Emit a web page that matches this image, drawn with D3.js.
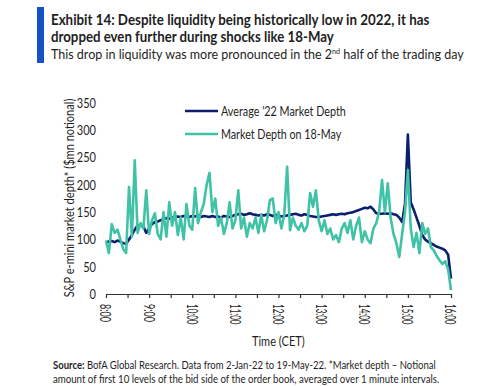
<!DOCTYPE html>
<html>
<head>
<meta charset="utf-8">
<script src="https://cdn.jsdelivr.net/npm/d3@7"></script>
<style>
  body { margin: 0; background: #fff; }
  svg { display: block; }
</style>
</head>
<body>
<svg id="chart"></svg>
<script>
// market depth through the trading day, one value every 4 minutes from 8:00 CET
const minutes = d3.range(0, 481, 4);

// average '22 market depth ($mn)
const avg22 = [
  95, 96, 97, 95, 98, 96, 93, 92, 100, 108, 118, 126, 125, 124, 112,
  120, 128, 132, 133, 135, 137, 139, 138, 140, 141, 142, 141, 143, 142, 141,
  143, 142, 144, 141, 143, 142, 141, 143, 141, 142, 140, 143, 142, 141, 143,
  145, 146, 147, 145, 146, 148, 146, 145, 144, 145, 144, 146, 145, 143, 145,
  144, 142, 143, 144, 145, 146, 147, 145, 144, 146, 145, 143, 142, 141, 141,
  142, 143, 144, 145, 146, 145, 146, 147, 146, 148, 149, 150, 152, 154, 156,
  158, 157, 160, 155, 148, 147, 147, 148, 147, 148, 146, 145, 140, 132, 165,
  292, 168, 155, 140, 125, 108, 100, 96, 93, 90, 87, 85, 83, 80, 72,
  28
];

// market depth on 18-May ($mn)
const may18 = [
  98, 75, 128, 112, 118, 100, 82, 75, 196, 105, 245, 112, 130, 120, 190,
  110, 135, 148, 110, 100, 150, 105, 168, 125, 150, 108, 140, 100, 165, 125,
  118, 194, 130, 150, 165, 200, 222, 150, 175, 125, 140, 110, 130, 168, 120,
  135, 190, 120, 140, 105, 130, 120, 140, 112, 145, 115, 135, 172, 175, 130,
  150, 120, 145, 233, 117, 140, 125, 118, 130, 115, 125, 185, 160, 190, 135,
  115, 135, 110, 120, 100, 108, 95, 120, 130, 112, 135, 100, 125, 140, 95,
  115, 100, 93, 120, 130, 150, 209, 150, 203, 140, 110, 93, 68, 110, 150,
  227, 120, 86, 112, 75, 130, 110, 120, 86, 80, 70, 62, 55, 60, 45,
  7
];

const yTicks = [0, 50, 100, 150, 200, 250, 300, 350];
const hourLabels = ["8:00", "9:00", "10:00", "11:00", "12:00", "13:00", "14:00", "15:00", "16:00"];
const seriesNames = ["Average '22 Market Depth", "Market Depth on 18-May"];

const W = 500, H = 386;
const navy = "#0b1f6e";
const teal = "#3fc2a6";
const ink = "#1e1e1e";
const font = "Lato, 'Open Sans', sans-serif";

const svg = d3.select("#chart")
    .attr("width", W)
    .attr("height", H)
    .style("font-family", font);

// squeeze a text element horizontally so it spans a given width
function fitWidth(node, x, target) {
    let w = node.getBBox().width;
    d3.select(node).attr("transform",
        "translate(" + x + ",0) scale(" + (target / w) + ",1) translate(" + (-x) + ",0)");
}

//header
svg.append("rect")
    .attr("x", 37).attr("y", 7)
    .attr("width", 7).attr("height", 56)
    .attr("fill", "#1552c9");

let t1 = svg.append("text")
    .attr("x", 51).attr("y", 25)
    .attr("font-size", "15px").attr("font-weight", "bold").attr("fill", ink)
    .text("Exhibit 14: Despite liquidity being historically low in 2022, it has");
fitWidth(t1.node(), 51, 379);

let t2 = svg.append("text")
    .attr("x", 51).attr("y", 42)
    .attr("font-size", "15px").attr("font-weight", "bold").attr("fill", ink)
    .text("dropped even further during shocks like 18-May");
fitWidth(t2.node(), 51, 283);

let sub = svg.append("text")
    .attr("x", 51).attr("y", 59)
    .attr("font-size", "14px").attr("fill", ink);
sub.append("tspan").text("This drop in liquidity was more pronounced in the 2");
sub.append("tspan").attr("font-size", "8px").attr("dy", -5).text("nd");
sub.append("tspan").attr("dy", 5).text(" half of the trading day");
fitWidth(sub.node(), 51, 414);

//scales
const xScale = d3.scaleLinear()
    .domain([0, 480])
    .range([106, 451]);

const yScale = d3.scaleLinear()
    .domain([0, 350])
    .range([294, 103]);

//y labels only, no axis line
svg.append("g")
    .selectAll("text")
    .data(yTicks)
    .enter()
    .append("text")
    .attr("x", 96)
    .attr("y", d => yScale(d))
    .attr("dy", "0.35em")
    .attr("text-anchor", "end")
    .attr("font-size", "14px")
    .attr("fill", ink)
    .attr("textLength", d => String(d).length * 6.4)
    .attr("lengthAdjust", "spacingAndGlyphs")
    .text(d => d);

let yTitle = svg.append("text")
    .attr("transform", "translate(74,198) rotate(-90)")
    .attr("text-anchor", "middle")
    .attr("font-size", "13px")
    .attr("fill", ink)
    .text("S&P e-mini market depth* ($mn notional)");
let yl = yTitle.node().getComputedTextLength();
yTitle.attr("transform", "translate(74,198) rotate(-90) scale(" + (199 / yl) + ",1)");

//x axis, a tick every half hour
let xAxis = d3.axisBottom(xScale)
    .tickValues(d3.range(0, 481, 30))
    .tickSize(4)
    .tickSizeOuter(0)
    .tickFormat("");

let gx = svg.append("g")
    .attr("transform", "translate(0," + yScale(0) + ")")
    .call(xAxis);
gx.select(".domain").attr("stroke", "#333").attr("stroke-width", 1.2);
gx.selectAll(".tick line").attr("stroke", "#333").attr("stroke-width", 1.2);

//hour labels, turned on their side
svg.append("g")
    .selectAll("text")
    .data(hourLabels)
    .enter()
    .append("text")
    .attr("transform", (d, i) => "translate(" + xScale(i * 60) + ",304) rotate(90)")
    .attr("dy", "0.35em")
    .attr("text-anchor", "start")
    .attr("font-size", "16px")
    .attr("fill", ink)
    .attr("textLength", d => d.length === 4 ? 18 : 20.5)
    .attr("lengthAdjust", "spacingAndGlyphs")
    .text(d => d);

let xTitle = svg.append("text")
    .attr("x", 252).attr("y", 346)
    .attr("font-size", "14px")
    .attr("fill", ink)
    .text("Time (CET)");
fitWidth(xTitle.node(), 252, 53);

//lines
let lineFun = series => d3.line()
    .x((d, i) => xScale(minutes[i]))
    .y(d => yScale(d))(series);

svg.append("path")
    .attr("d", lineFun(avg22))
    .attr("fill", "none")
    .attr("stroke", navy)
    .attr("stroke-width", 2.6)
    .attr("stroke-linejoin", "round");

svg.append("path")
    .attr("d", lineFun(may18))
    .attr("fill", "none")
    .attr("stroke", teal)
    .attr("stroke-width", 2.6)
    .attr("stroke-linejoin", "round");

//legend
const legendY = [111, 134];
const legendW = [125, 121];
[navy, teal].forEach((c, i) => {
    svg.append("line")
        .attr("x1", 185).attr("x2", 218)
        .attr("y1", legendY[i]).attr("y2", legendY[i])
        .attr("stroke", c)
        .attr("stroke-width", 2.6);
    let lt = svg.append("text")
        .attr("x", 221).attr("y", legendY[i])
        .attr("dy", "0.35em")
        .attr("font-size", "14px")
        .attr("fill", ink)
        .text(seriesNames[i]);
    fitWidth(lt.node(), 221, legendW[i]);
});

//source note
let s1 = svg.append("text")
    .attr("x", 53).attr("y", 369)
    .attr("font-size", "10.5px")
    .attr("fill", ink);
s1.append("tspan").attr("font-weight", "bold").text("Source:");
s1.append("tspan").text("  BofA Global Research. Data from 2-Jan-22 to 19-May-22. *Market depth \u2013 Notional");
fitWidth(s1.node(), 53, 383);

let s2 = svg.append("text")
    .attr("x", 53).attr("y", 383)
    .attr("font-size", "10.5px")
    .attr("fill", ink)
    .text("amount of first 10 levels of the bid side of the order book, averaged over 1 minute intervals.");
fitWidth(s2.node(), 53, 387);
</script>
</body>
</html>
